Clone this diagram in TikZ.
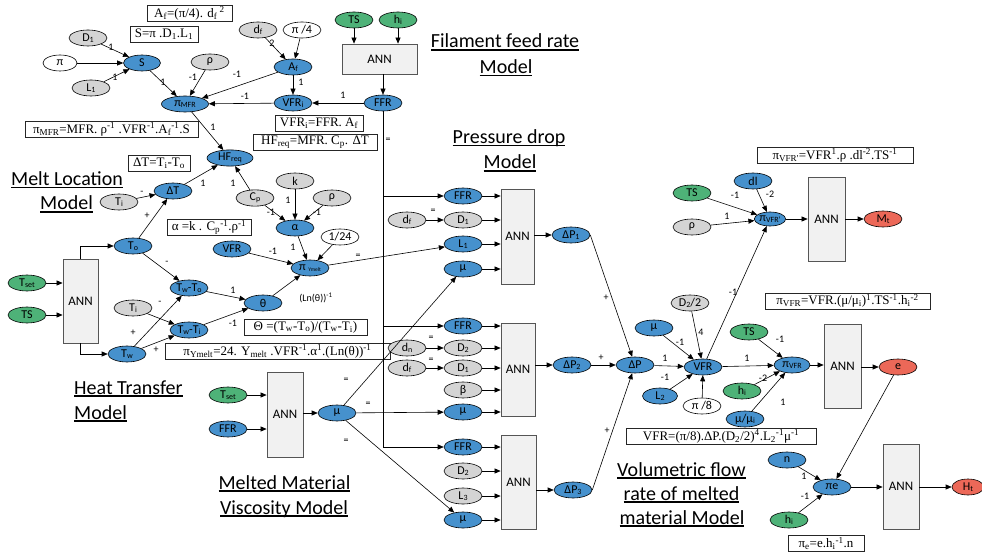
\documentclass[tikz,border=0pt]{standalone}
\usepackage{fontspec}
\setmainfont{Carlito}
\newfontfamily\eqfont{Liberation Serif}
\usetikzlibrary{shapes.geometric,arrows.meta}

\definecolor{nblue}{RGB}{70,145,205}
\definecolor{ngray}{RGB}{212,212,212}
\definecolor{ngreen}{RGB}{78,178,120}
\definecolor{nred}{RGB}{236,104,88}
\definecolor{annfill}{RGB}{241,241,241}
\definecolor{anndraw}{RGB}{85,85,85}

% small lowered index used inside the variable ellipses
\newcommand\lo[1]{\raisebox{-0.25ex}{\fontsize{8}{8}\selectfont #1}}
\newcommand\lot[1]{\raisebox{-0.2ex}{\fontsize{5.5}{6}\selectfont #1}}
% heavy underline for the model titles
\newcommand\titleline[1]{\setbox0\hbox{#1}\rlap{\rule[-2.6pt]{\wd0}{1.5pt}}\box0}
\newcounter{lb}
\newcommand\elab[3]{\stepcounter{lb}\node[lab] (lab\arabic{lb}) at (#1,#2) {#3};}

\tikzset{
  var/.style={ellipse, draw=black, line width=0.6pt, minimum width=38pt,
    minimum height=16pt, inner sep=0.5pt, font=\fontsize{12}{12}\selectfont},
  bl/.style={var, fill=nblue},
  gr/.style={var, fill=ngray},
  wh/.style={var, fill=white},
  gn/.style={var, fill=ngreen},
  rd/.style={var, fill=nred},
  ann/.style={rectangle, draw=anndraw, fill=annfill, line width=0.8pt,
    font=\fontsize{13}{13}\selectfont, inner sep=0pt},
  eq/.style={rectangle, draw=black!85, line width=0.7pt,
    font=\eqfont\fontsize{13}{13}\selectfont, inner sep=1.2pt, minimum height=16pt},
  lab/.style={font=\fontsize{10}{10}\selectfont, inner sep=0pt},
  ttl/.style={font=\fontsize{20}{20}\selectfont, inner sep=0pt, anchor=base},
  arr/.style={-{Triangle[length=6pt,width=5pt]}, line width=0.6pt},
  ln/.style={line width=0.6pt},
}

\begin{document}
\begin{tikzpicture}[x=1pt,y=-1pt]
\useasboundingbox (0,0) rectangle (982,553);

% ---------------- Filament feed rate model ----------------
\node[gr] (D1a) at (88,38) {D\lo{1}};
\node[wh, minimum width=34pt] (pia) at (60,63) {π};
\node[gr] (L1a) at (91,88) {L\lo{1}};
\node[bl, minimum width=37pt] (S) at (142,63) {S};
\node[gr] (rhoa) at (210,62) {ρ};
\node[bl, minimum width=47pt] (piMFR) at (185,104) {π\lo{MFR}};
\node[gr] (dfa) at (258,30) {d\lo{f}};
\node[wh] (pi4) at (302,30) {π /4};
\node[bl] (Af) at (293,67) {A\lo{f}};
\node[bl] (VFRi) at (293,103) {VFR\lo{i}};
\node[bl] (FFR0) at (383,103) {FFR};
\node[gn] (TS0) at (354,20) {TS};
\node[gn] (hi0) at (398,20) {h\lo{i}};
\node[ann, minimum width=75pt, minimum height=30pt] (ANN0) at (379.5,59) {ANN};
\node[bl, minimum width=46pt] (HF) at (230,158) {HF\lo{req}};

\node[eq, minimum width=85pt] (eqAf) at (189.5,13.5) {A\textsubscript{f}=(π/4). d\textsubscript{f}\textsuperscript{ 2}};
\node[eq, minimum width=68pt] (eqS) at (164,34.5) {S=π .D\textsubscript{1}.L\textsubscript{1}};
\node[eq, minimum width=173pt] (eqMFR) at (111.5,129.5) {π\textsubscript{MFR}=MFR. ρ\textsuperscript{-1} .VFR\textsuperscript{-1}.A\textsubscript{f}\textsuperscript{-1}.S};
\node[eq, minimum width=62pt] (eqDT) at (159,163) {ΔT=T\textsubscript{i}-T\textsubscript{o}};
\node[eq, minimum width=88pt] (eqVFRi) at (319,123.5) {VFR\textsubscript{i}=FFR. A\textsubscript{f}};
\node[eq, minimum width=124pt] (eqHF) at (315,142.5) {HF\textsubscript{req}=MFR. C\textsubscript{p}. ΔT};

% ---------------- Melt location / heat transfer ----------------
\node[bl] (DT) at (173,191) {ΔT};
\node[gr] (Ti1) at (119,202) {T\lo{i}};
\node[gr] (Cp) at (255,198) {C\lo{p}};
\node[gr] (k) at (295,181) {k};
\node[gr] (rho2) at (332,198) {ρ};
\node[bl] (alpha) at (295,228) {α};
\node[wh] (one24) at (340,237) {1/24};
\node[bl] (To) at (133,246) {T\lo{o}};
\node[bl] (VFRb) at (232,249) {VFR};
\node[bl] (piY) at (310,268) {π \lot{Ymelt}};
\node[bl] (TwTo) at (189,288) {T\lo{w}-T\lo{o}};
\node[gr] (Ti2) at (133,308) {T\lo{i}};
\node[bl] (TwTi) at (189,330) {T\lo{w}-T\lo{i}};
\node[bl] (theta) at (263,303) {θ};
\node[bl] (Tw) at (127,354) {T\lo{w}};
\node[ann, minimum width=35pt, minimum height=84pt] (ANNm) at (80.5,301) {ANN};
\node[gn] (Tset1) at (27,283) {T\lo{set}};
\node[gn] (TS1) at (27,315) {TS};

\node[eq, minimum width=84pt] (eqal) at (209,227.5) {α =k . C\textsubscript{p}\textsuperscript{-1}.ρ\textsuperscript{-1}};
\node[eq, minimum width=123pt] (eqTh) at (305.5,327) {Θ =(T\textsubscript{w}-T\textsubscript{o})/(T\textsubscript{w}-T\textsubscript{i})};
\node[eq, minimum width=225pt] (eqY) at (277.5,351.5) {π\textsubscript{Ymelt}=24. Y\textsubscript{melt} .VFR\textsuperscript{-1}.α\textsuperscript{1}.(Ln(θ))\textsuperscript{-1}};

% ---------------- Viscosity model ----------------
\node[gn] (Tset2) at (228,395) {T\lo{set}};
\node[bl] (FFRv) at (228,429) {FFR};
\node[ann, minimum width=36pt, minimum height=85pt] (ANNv) at (285,414.5) {ANN};
\node[bl] (muv) at (337,413) {μ};

% ---------------- Pressure drop models ----------------
\node[bl] (FFR1) at (463,196) {FFR};
\node[gr] (df1) at (407,220) {d\lo{f}};
\node[gr] (D1b) at (463,220) {D\lo{1}};
\node[bl] (L1b) at (463,244) {L\lo{1}};
\node[bl] (mu1) at (463,269) {μ};
\node[ann, minimum width=33pt, minimum height=95pt] (ANN1) at (517.5,236.5) {ANN};
\node[bl] (DP1) at (571,235) {ΔP\lo{1}};

\node[bl] (FFR2) at (463,326) {FFR};
\node[gr] (dn) at (407,348) {d\lo{n}};
\node[gr] (D2b) at (463,348) {D\lo{2}};
\node[gr] (df2) at (407,368) {d\lo{f}};
\node[gr] (D1c) at (463,368) {D\lo{1}};
\node[gr] (beta) at (463,390) {β};
\node[bl] (mu2) at (463,412) {μ};
\node[ann, minimum width=34pt, minimum height=93pt] (ANN2) at (518,369.5) {ANN};
\node[bl] (DP2) at (572,365) {ΔP\lo{2}};

\node[bl] (FFR3) at (463,447) {FFR};
\node[gr] (D2c) at (463,471) {D\lo{2}};
\node[gr] (L3) at (463,496) {L\lo{3}};
\node[bl] (mu3) at (463,520) {μ};
\node[ann, minimum width=35pt, minimum height=94pt] (ANN3) at (518.5,482) {ANN};
\node[bl] (DP3) at (573,490) {ΔP\lo{3}};

% ---------------- Volumetric flow rate model ----------------
\node[bl] (DP) at (635,365) {ΔP};
\node[bl] (muf) at (654,328) {μ};
\node[gr] (D22) at (690,303) {D\lo{2}/2};
\node[bl] (VFRc) at (703,367) {VFR};
\node[bl, minimum width=35pt] (L2) at (660,396) {L\lo{2}};
\node[wh] (pi8) at (702,406) {π /8};
\node[eq, minimum width=190pt] (eqVFR) at (721,436.5) {VFR=(π/8).ΔP.(D\textsubscript{2}/2)\textsuperscript{4}.L\textsubscript{2}\textsuperscript{-1}μ\textsuperscript{-1}};

% ---------------- Output models ----------------
\node[gn] (TS3) at (692,193) {TS};
\node[gr] (rho3) at (692,227) {ρ};
\node[bl] (dl) at (753,181) {dl};
\node[bl, minimum width=30pt, minimum height=14pt] (piVFRp) at (770,219) {π\lo{VFR'}};
\node[ann, minimum width=37pt, minimum height=84pt] (ANNt) at (826.5,219) {ANN};
\node[rd] (Mt) at (883,219) {M\lo{t}};
\node[eq, minimum width=156pt] (eqVFRp) at (835,155.5) {π\textsubscript{VFR'}=VFR\textsuperscript{1}.ρ .dl\textsuperscript{-2}.TS\textsuperscript{-1}};

\node[gn] (TS4) at (749,332) {TS};
\node[bl, minimum width=36pt] (piVFR) at (792,365) {π\lo{VFR}};
\node[gn] (hi4) at (742,391) {h\lo{i}};
\node[bl] (mumui) at (745,419) {μ/μ\lo{i}};
\node[ann, minimum width=37pt, minimum height=84pt] (ANNe) at (842.5,366) {ANN};
\node[rd] (e) at (898,367) {e};
\node[eq, minimum width=165pt] (eqpiVFR) at (847.5,301) {π\textsubscript{VFR}=VFR.(μ/μ\textsubscript{i})\textsuperscript{1}.TS\textsuperscript{-1}.h\textsubscript{i}\textsuperscript{-2}};

\node[bl] (n) at (787,460) {n};
\node[bl] (pie) at (832,487) {πe};
\node[gn] (hi5) at (789,520) {h\lo{i}};
\node[ann, minimum width=36pt, minimum height=85pt] (ANNh) at (901,486.5) {ANN};
\node[rd, minimum width=32pt] (Ht) at (968,487) {H\lo{t}};
\node[eq, minimum width=76pt] (eqpie) at (826,543.5) {π\textsubscript{e}=e.h\textsubscript{i}\textsuperscript{-1}.n};

% ---------------- titles ----------------
\node[ttl] (tF1) at (505,48) {\titleline{Filament feed rate}};
\node[ttl] (tF2) at (506,73.5) {\titleline{Model}};
\node[ttl] (tP1) at (509,143.5) {\titleline{Pressure drop}};
\node[ttl] (tP2) at (510,169) {\titleline{Model}};
\node[ttl] (tM1) at (67,185.5) {\titleline{Melt Location}};
\node[ttl] (tM2) at (66.5,210) {\titleline{Model}};
\node[ttl, anchor=base west] (tH1) at (74,394) {\titleline{Heat Transfer}};
\node[ttl, anchor=base west] (tH2) at (74,419) {\titleline{Model}};
\node[ttl] (tV1) at (284.5,489) {\titleline{Melted Material}};
\node[ttl] (tV2) at (284,514) {\titleline{Viscosity Model}};
\node[ttl] (tQ1) at (681.5,476) {\titleline{Volumetric flow}};
\node[ttl] (tQ2) at (681.5,500) {\titleline{rate of melted}};
\node[ttl] (tQ3) at (682,524) {\titleline{material Model}};

% ---------------- connectors ----------------
\draw[arr] (D1a) -- (S);
\draw[arr] (pia) -- (S);
\draw[arr] (L1a) -- (S);
\draw[arr] (S) -- (piMFR);
\draw[arr] (rhoa) -- (piMFR);
\draw[arr] (Af) -- (piMFR);
\draw[arr] (VFRi) -- (piMFR);
\draw[arr] (dfa) -- (Af);
\draw[arr] (pi4) -- (Af);
\draw[arr] (Af) -- (VFRi);
\draw[arr] (FFR0) -- (VFRi);
\draw[arr] (TS0) -- (TS0 |- ANN0.north);
\draw[arr] (hi0) -- (hi0 |- ANN0.north);
\draw[arr] (ANN0.south -| FFR0) -- (FFR0);
\draw[arr] (piMFR) -- (HF);
\draw[arr] (DT) -- (HF);
\draw[arr] (Cp) -- (HF);

\draw[arr] (Ti1) -- (DT);
\draw[arr] (To) -- (DT);
\draw[arr] (k) -- (alpha);
\draw[arr] (Cp) -- (alpha);
\draw[arr] (rho2) -- (alpha);
\draw[arr] (alpha) -- (piY);
\draw[arr] (VFRb) -- (piY);
\draw[arr] (one24) -- (piY);
\draw[arr] (theta) -- (piY);
\draw[arr] (piY) -- (L1b);
\draw[arr] (To) -- (TwTo);
\draw[arr] (Tw) -- (TwTo);
\draw[arr] (Ti2) -- (TwTi);
\draw[arr] (Tw) -- (TwTi);
\draw[arr] (TwTo) -- (theta);
\draw[arr] (TwTi) -- (theta);
\draw[arr] (Tset1) -- (Tset1 -| ANNm.west);
\draw[arr] (TS1) -- (TS1 -| ANNm.west);
\draw[arr] (ANNm.north) -- (ANNm.north |- To) -- (To);
\draw[arr] (ANNm.south) -- (ANNm.south |- Tw) -- (Tw);

% FFR distribution to the pressure-drop networks
\draw[ln] (FFR0) -- (FFR0 |- FFR3);
\draw[arr] (FFR0 |- FFR1) -- (FFR1);
\draw[arr] (FFR0 |- FFR2) -- (FFR2);
\draw[arr] (FFR0 |- FFR3) -- (FFR3);

\draw[arr] (Tset2) -- (Tset2 -| ANNv.west);
\draw[arr] (FFRv) -- (FFRv -| ANNv.west);
\draw[arr] (ANNv.east |- muv) -- (muv);
\draw[arr] (muv) -- (mu1);
\draw[arr] (muv) -- (mu2);
\draw[arr] (muv) -- (mu3);

\draw[arr] (df1) -- (D1b);
\draw[arr] (dn) -- (D2b);
\draw[arr] (df2) -- (D1c);
\foreach \v in {FFR1,D1b,L1b,mu1}{\draw[arr] (\v) -- (\v -| ANN1.west);}
\foreach \v in {FFR2,D2b,D1c,beta,mu2}{\draw[arr] (\v) -- (\v -| ANN2.west);}
\foreach \v in {FFR3,D2c,L3,mu3}{\draw[arr] (\v) -- (\v -| ANN3.west);}
\draw[arr] (ANN1.east |- DP1) -- (DP1);
\draw[arr] (ANN2.east |- DP2) -- (DP2);
\draw[arr] (ANN3.east |- DP3) -- (DP3);

\draw[arr] (DP1.east) -- (DP);
\draw[arr] (DP2) -- (DP);
\draw[arr] (DP3.east) -- (DP);
\draw[arr] (DP) -- (VFRc);
\draw[arr] (muf) -- (VFRc);
\draw[arr] (D22) -- (VFRc);
\draw[arr] (L2) -- (VFRc);
\draw[arr] (pi8) -- (VFRc);

\draw[arr] (TS3) -- (piVFRp);
\draw[arr] (rho3) -- (piVFRp);
\draw[arr] (dl) -- (piVFRp);
\draw[arr] (VFRc) -- (piVFRp);
\draw[arr] (piVFRp) -- (piVFRp -| ANNt.west);
\draw[arr] (ANNt.east |- Mt) -- (Mt);

\draw[arr] (VFRc) -- (piVFR);
\draw[arr] (TS4) -- (piVFR);
\draw[arr] (hi4) -- (piVFR);
\draw[arr] (mumui) -- (piVFR);
\draw[arr] (piVFR) -- (piVFR -| ANNe.west);
\draw[arr] (ANNe.east |- e) -- (e);

\draw[arr] (e) -- (pie);
\draw[arr] (n) -- (pie);
\draw[arr] (hi5) -- (pie);
\draw[arr] (pie) -- (pie -| ANNh.west);
\draw[arr] (ANNh.east |- Ht) -- (Ht);

% ---------------- exponents on the connectors ----------------
\elab{111}{47}{1}
\elab{115}{77}{1}
\elab{163}{82}{1}
\elab{193}{77}{-1}
\elab{237}{74}{-1}
\elab{245}{96}{-1}
\elab{213}{127}{1}
\elab{203}{183}{1}
\elab{233}{183}{1}
\elab{272}{43}{2}
\elab{301}{82}{1}
\elab{343}{95}{1}
\elab{388}{140}{=}
\elab{142}{193}{-}
\elab{147}{216}{+}
\elab{288}{200}{1}
\elab{271}{212}{-1}
\elab{317}{212}{-1}
\elab{293}{247}{1}
\elab{273}{251}{-1}
\elab{316}{298}{(Ln(θ))\textsuperscript{-1}}
\elab{358}{256}{=}
\elab{167}{263}{-}
\elab{233}{290}{1}
\elab{160}{303}{-}
\elab{233}{323}{-1}
\elab{133}{333}{+}
\elab{156}{350}{+}
\elab{433}{211}{=}
\elab{431}{338}{=}
\elab{431}{360}{=}
\elab{346}{380}{=}
\elab{368}{404}{=}
\elab{346}{441}{=}
\elab{606}{298}{+}
\elab{601}{358}{+}
\elab{607}{431}{+}
\elab{665}{358}{1}
\elab{680}{342}{-1}
\elab{701}{332}{4}
\elab{665}{377}{-1}
\elab{735}{195}{-1}
\elab{727}{216}{1}
\elab{770}{194}{-2}
\elab{733}{292}{-1}
\elab{747}{358}{1}
\elab{780}{339}{-1}
\elab{763}{378}{-2}
\elab{783}{402}{1}
\elab{804}{476}{1}
\elab{805}{496}{-1}
\end{tikzpicture}
\end{document}
